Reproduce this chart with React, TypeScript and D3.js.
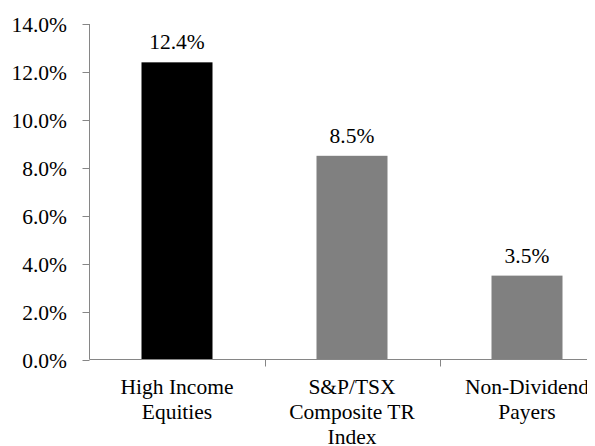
import * as d3 from "d3";

const categories = ["High Income Equities", "S&P/TSX Composite TR Index", "Non-Dividend Payers"];
const labelLines = [["High Income", "Equities"], ["S&P/TSX", "Composite TR", "Index"], ["Non-Dividend", "Payers"]];
const values = [12.4, 8.5, 3.5];
const barColors = ["#000000", "#808080", "#808080"];
const yTicks = [0, 2, 4, 6, 8, 10, 12, 14];

const axisColor = "#868686";

export default function App() {
  const width = 595;
  const height = 446;

  const x = d3.scaleBand(categories, [89.5, 614.5]).paddingInner(0).paddingOuter(0);
  const y = d3.scaleLinear([0, 14], [359.5, 24]);
  const barW = 71;
  const fmt = (d: number) => d.toFixed(1) + "%";
  const mid = (i: number) => x(categories[i])! + x.bandwidth() / 2;

  return (
    <svg width={width} height={height} style={{ display: "block", margin: "-8px 0 0 -8px" }}
      fontFamily="Times New Roman" fontSize={21.5}>
      {/* bars */}
      {values.map((d, i) => (
        <rect key={i} x={mid(i) - barW / 2} width={barW} y={y(d)} height={y(0) - y(d)} fill={barColors[i]} />
      ))}

      {/* y axis */}
      <path d={`M89.5,${y(14)}V${y(0)}`} stroke={axisColor} fill="none" />
      {yTicks.map(t => (
        <g key={t} transform={`translate(0,${Math.round(y(t)) + 0.5})`}>
          <line x1={82.5} x2={89.5} stroke={axisColor} />
          <text x={67} dy="0.35em" textAnchor="end">{fmt(t)}</text>
        </g>
      ))}

      {/* x axis */}
      <path d={`M89.5,359.5H614.5`} stroke={axisColor} fill="none" />
      {categories.slice(1).map(c => (
        <line key={c} x1={Math.round(x(c)!) + 0.5} x2={Math.round(x(c)!) + 0.5} y1={359.5} y2={366.5} stroke={axisColor} />
      ))}

      {/* category labels */}
      {labelLines.map((lines, i) => (
        <text key={i} textAnchor="middle">
          {lines.map((l, j) => (
            <tspan key={j} x={mid(i)} y={394 + j * 25}>{l}</tspan>
          ))}
        </text>
      ))}

      {/* value labels */}
      {values.map((d, i) => (
        <text key={i} x={mid(i)} y={y(d) - 13} textAnchor="middle">{fmt(d)}</text>
      ))}
    </svg>
  );
}
